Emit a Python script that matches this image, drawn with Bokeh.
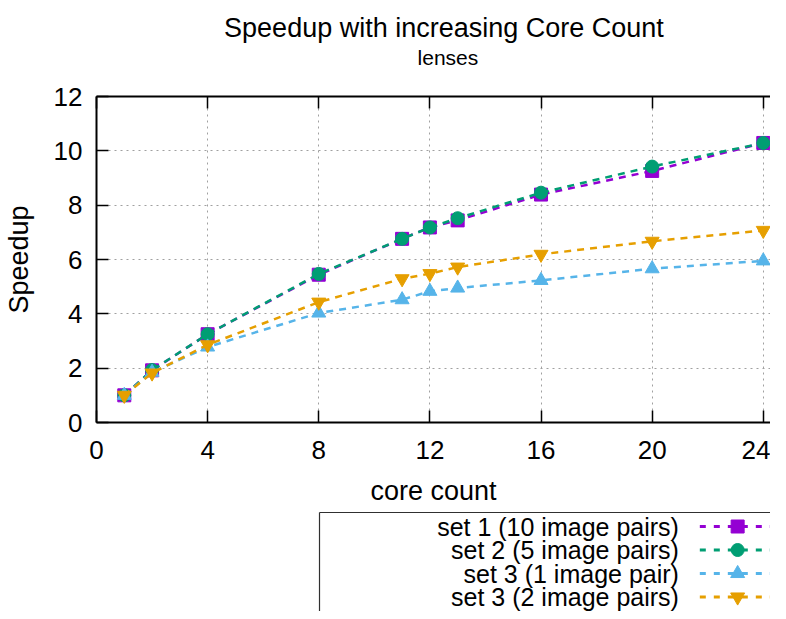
from bokeh.plotting import figure
from bokeh.models import Range1d, LinearAxis, FixedTicker
from bokeh.layouts import column
from bokeh.embed import file_html
from bokeh.resources import INLINE
from bokeh.core.properties import value

# ---- data ----
cores = [1, 2, 4, 8, 11, 12, 13, 16, 20, 24]
set1_10pairs = [1.0, 1.92, 3.25, 5.44, 6.76, 7.18, 7.44, 8.39, 9.26, 10.29]
set2_5pairs = [1.0, 1.93, 3.25, 5.47, 6.76, 7.18, 7.52, 8.46, 9.42, 10.29]
set3_1pair = [1.0, 1.85, 2.78, 4.03, 4.52, 4.83, 4.95, 5.23, 5.66, 5.95]
set3_2pairs = [1.0, 1.82, 2.86, 4.43, 5.29, 5.48, 5.72, 6.19, 6.67, 7.07]

series_labels = ["set 1 (10 image pairs)", "set 2 (5 image pairs)",
                 "set 3 (1 image pair)", "set 3 (2 image pairs)"]
series_values = [set1_10pairs, set2_5pairs, set3_1pair, set3_2pairs]
series_colors = ["#9400d3", "#009e73", "#56b4e9", "#e69f00"]
series_markers = ["square", "circle", "triangle", "inverted_triangle"]
series_sizes = [13, 13, 14, 14]

x_ticks = [0, 4, 8, 12, 16, 20, 24]
y_ticks = [0, 2, 4, 6, 8, 10, 12]

title_text = "Speedup with increasing Core Count"
subtitle_text = "lenses"
x_label = "core count"
y_label = "Speedup"

FONT = "Liberation Sans"
DASH = "7 6"
LEG_DASH = "6 8"
W = 770
LEFT = 93
FRAME_W = W - LEFT


def blank(height):
    f = figure(width=W, height=height, x_range=Range1d(0, FRAME_W), y_range=Range1d(height, 0),
               output_backend="svg", toolbar_location=None,
               min_border_left=LEFT, min_border_right=0, min_border_top=0, min_border_bottom=0)
    f.axis.visible = False
    f.grid.visible = False
    f.outline_line_color = None
    return f


# ---- header with title and subtitle (pixel coordinates relative to the plot frame) ----
HEAD_H = 80
head = blank(HEAD_H)
head.text(x=[349], y=[27], text=[title_text], text_align="center", text_baseline="middle",
          text_font=value(FONT), text_font_size="27px", text_color="black")
head.text(x=[353], y=[57], text=[subtitle_text], text_align="center", text_baseline="middle",
          text_font=value(FONT), text_font_size="21px", text_color="black")

# ---- main plot ----
p = figure(width=W, height=428, x_range=Range1d(0, 24.26), y_range=Range1d(0, 12),
           output_backend="svg", toolbar_location=None, title=None,
           min_border_left=LEFT, min_border_right=0, min_border_top=16, min_border_bottom=86)
p.outline_line_color = None

for ax in (p.xaxis[0], p.yaxis[0]):
    ax.axis_line_width = 2
    ax.axis_line_color = "black"
    ax.major_tick_in = 12
    ax.major_tick_out = 0
    ax.minor_tick_in = 0
    ax.minor_tick_out = 0
    ax.major_tick_line_color = "black"
    ax.major_tick_line_width = 1.5
    ax.major_label_text_font = FONT
    ax.major_label_text_font_size = "26px"
    ax.major_label_text_color = "black"
    ax.axis_label_text_font = FONT
    ax.axis_label_text_font_size = "27px"
    ax.axis_label_text_font_style = "normal"
    ax.axis_label_text_color = "black"

p.xaxis.ticker = FixedTicker(ticks=x_ticks)
p.yaxis.ticker = FixedTicker(ticks=y_ticks)
p.xaxis.axis_label = x_label
p.yaxis.axis_label = y_label
p.xaxis.major_label_standoff = 18
p.xaxis.axis_label_standoff = 14
p.yaxis.major_label_standoff = 14
p.yaxis.axis_label_standoff = 17

p.xgrid.ticker = FixedTicker(ticks=x_ticks)
p.ygrid.ticker = FixedTicker(ticks=y_ticks)
p.grid.grid_line_color = "#a0a0a0"
p.grid.grid_line_dash = "2 4"
p.grid.grid_line_width = 1

top_axis = LinearAxis(ticker=FixedTicker(ticks=x_ticks), axis_line_width=2,
                      major_tick_in=12, major_tick_out=0, minor_tick_in=0, minor_tick_out=0,
                      major_tick_line_width=1.5,
                      major_label_text_font_size="1px", major_label_text_alpha=0,
                      major_label_standoff=0)
p.add_layout(top_axis, "above")

for vals, col, mk, sz in zip(series_values, series_colors, series_markers, series_sizes):
    p.line(cores, vals, line_color=col, line_width=2.5, line_dash=DASH)
    p.scatter(cores, vals, marker=mk, size=sz, fill_color=col, line_color=col)

# ---- legend panel (pixel coordinates relative to the plot frame) ----
LEG_H = 103
leg = blank(LEG_H)
box_left, box_top = 224, 4
leg.segment(x0=[box_left, box_left], y0=[box_top, box_top], x1=[FRAME_W, box_left], y1=[box_top, LEG_H],
            line_color="#303030", line_width=1.2)
row_y = [box_top + 14 + 23.5 * i for i in range(4)]
leg.text(x=[585] * 4, y=row_y, text=series_labels, text_align="right", text_baseline="middle",
         text_font=value(FONT), text_font_size="25px", text_color="black")
for yy, col, mk, sz in zip(row_y, series_colors, series_markers, series_sizes):
    leg.line([606, FRAME_W], [yy, yy], line_color=col, line_width=3, line_dash=LEG_DASH)
    leg.scatter([644], [yy], marker=mk, size=sz, fill_color=col, line_color=col)

layout = column(head, p, leg, spacing=0)
open("out.html", "w").write(file_html(layout, INLINE))
